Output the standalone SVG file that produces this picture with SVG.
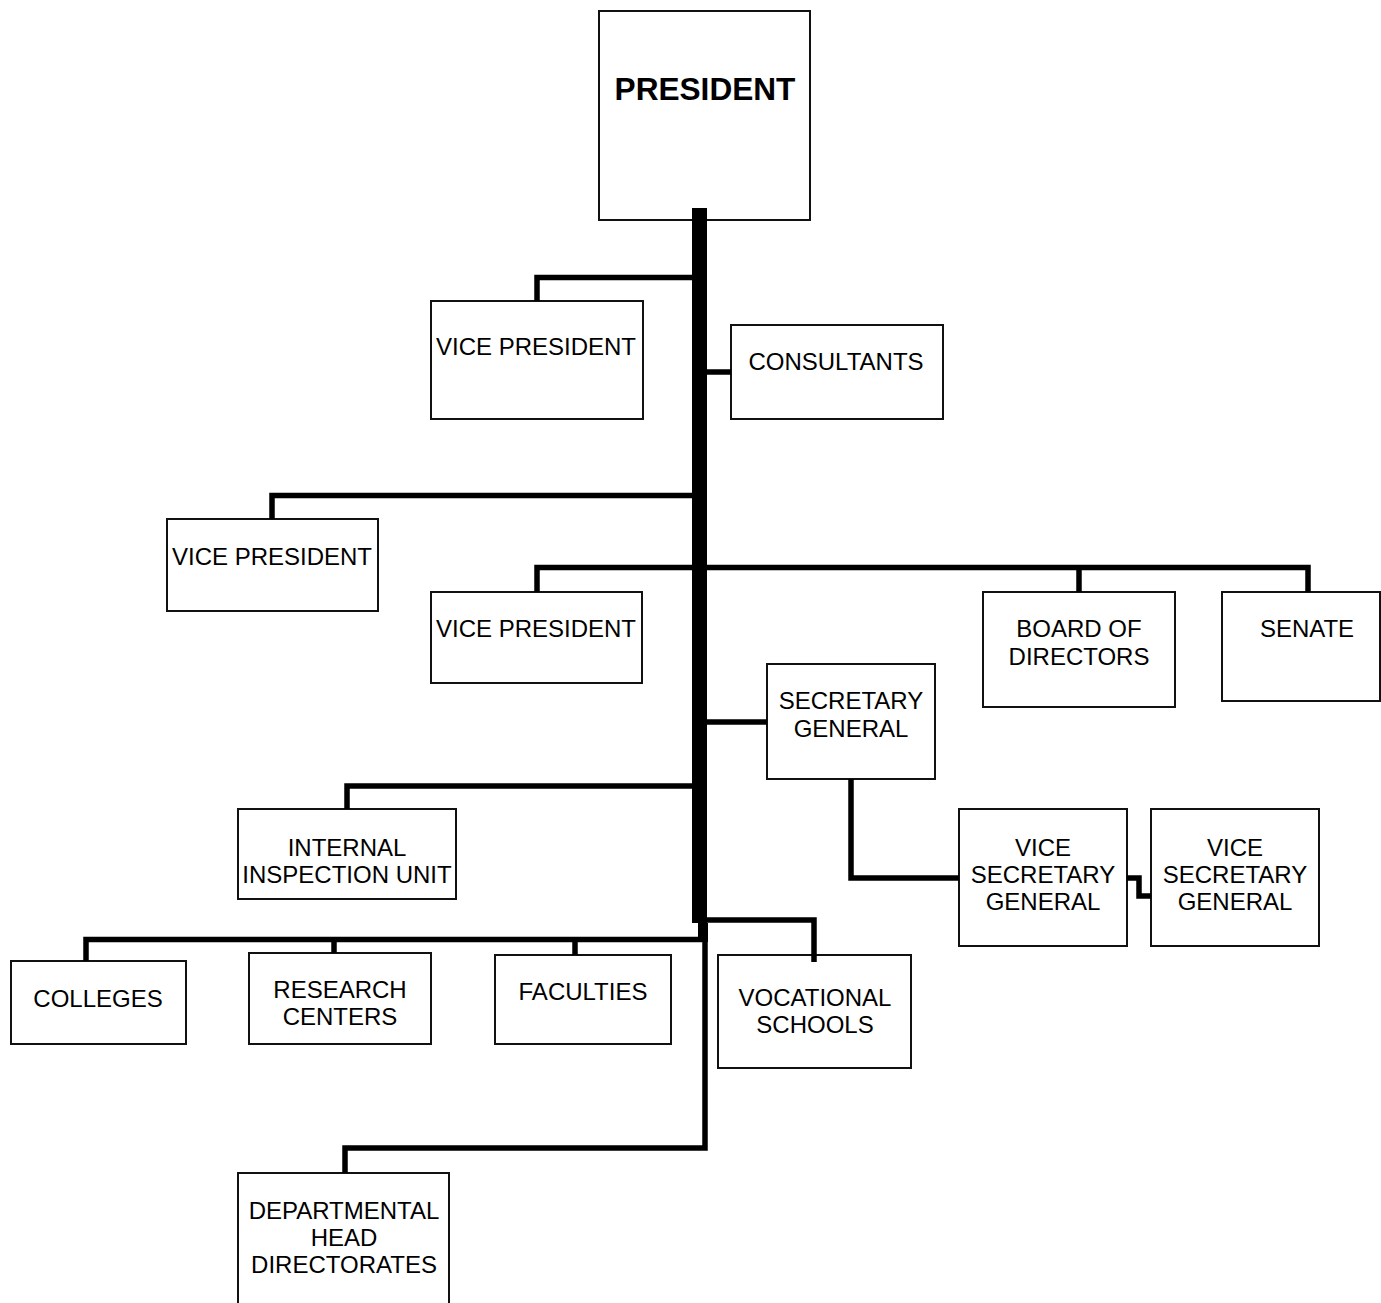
<svg xmlns="http://www.w3.org/2000/svg" width="1381" height="1303" viewBox="0 0 1381 1303">
<style>
.box{fill:#fff;stroke:#111;stroke-width:2}
.t{font-family:"Liberation Sans",Arial,sans-serif;font-size:24px;fill:#000;text-anchor:middle}
.tb{font-weight:bold;font-size:31.6px}
.c{fill:none;stroke:#000;stroke-width:5.5;stroke-linejoin:miter;stroke-linecap:butt}
.s{fill:#000;stroke:none}
</style>
<rect width="1381" height="1303" fill="#fff"/>
<g id="nodes">
<g id="president"><rect class="box" x="599" y="11" width="211" height="209"/><text class="t tb" x="705" y="100">PRESIDENT</text></g>
<g id="vp1"><rect class="box" x="431" y="301" width="212" height="118"/><text class="t" x="536" y="355">VICE PRESIDENT</text></g>
<g id="consultants"><rect class="box" x="731" y="325" width="212" height="94"/><text class="t" x="836" y="370">CONSULTANTS</text></g>
<g id="vp2"><rect class="box" x="167" y="519" width="211" height="92"/><text class="t" x="272" y="565">VICE PRESIDENT</text></g>
<g id="vp3"><rect class="box" x="431" y="592" width="211" height="91"/><text class="t" x="536" y="637">VICE PRESIDENT</text></g>
<g id="board"><rect class="box" x="983" y="592" width="192" height="115"/><text class="t" x="1079" y="637">BOARD OF</text><text class="t" x="1079" y="665">DIRECTORS</text></g>
<g id="senate"><rect class="box" x="1222" y="592" width="158" height="109"/><text class="t" x="1307" y="637">SENATE</text></g>
<g id="secgen"><rect class="box" x="767" y="664" width="168" height="115"/><text class="t" x="851" y="709">SECRETARY</text><text class="t" x="851" y="737">GENERAL</text></g>
<g id="vsg1"><rect class="box" x="959" y="809" width="168" height="137"/><text class="t" x="1043" y="856">VICE</text><text class="t" x="1043" y="883">SECRETARY</text><text class="t" x="1043" y="910">GENERAL</text></g>
<g id="vsg2"><rect class="box" x="1151" y="809" width="168" height="137"/><text class="t" x="1235" y="856">VICE</text><text class="t" x="1235" y="883">SECRETARY</text><text class="t" x="1235" y="910">GENERAL</text></g>
<g id="internal"><rect class="box" x="238" y="809" width="218" height="90"/><text class="t" x="347" y="856">INTERNAL</text><text class="t" x="347" y="883">INSPECTION UNIT</text></g>
<g id="colleges"><rect class="box" x="11" y="961" width="175" height="83"/><text class="t" x="98" y="1007">COLLEGES</text></g>
<g id="research"><rect class="box" x="249" y="953" width="182" height="91"/><text class="t" x="340" y="998">RESEARCH</text><text class="t" x="340" y="1025">CENTERS</text></g>
<g id="faculties"><rect class="box" x="495" y="955" width="176" height="89"/><text class="t" x="583" y="1000">FACULTIES</text></g>
<g id="vocational"><rect class="box" x="718" y="955" width="193" height="113"/><text class="t" x="815" y="1006">VOCATIONAL</text><text class="t" x="815" y="1033">SCHOOLS</text></g>
<g id="departmental"><rect class="box" x="238" y="1173" width="211" height="150"/><text class="t" x="344" y="1219">DEPARTMENTAL</text><text class="t" x="344" y="1246">HEAD</text><text class="t" x="344" y="1273">DIRECTORATES</text></g>
</g>
<g id="connectors">
<rect class="s" x="692" y="208" width="15" height="715"/>
<rect class="s" x="698" y="923" width="10" height="19"/>
<path class="c" d="M693 277.5 H537 V301"/>
<path class="c" d="M707 372 H731"/>
<path class="c" d="M693 495.5 H272 V519"/>
<path class="c" d="M537 592 V567.5 H1308 V592"/>
<path class="c" d="M1079 567.5 V592"/>
<path class="c" d="M707 722 H767"/>
<path class="c" d="M851 779 V878 H959"/>
<path class="c" d="M1127 878 H1139 V896 H1151"/>
<path class="c" d="M693 786 H347 V809"/>
<path class="c" d="M86 961 V939.5 H702"/>
<path class="c" d="M334 939.5 V953"/>
<path class="c" d="M575 939.5 V955"/>
<path class="c" d="M707 920 H814 V962"/>
<path class="c" d="M705 940 V1148 H345 V1173"/>
</g>
</svg>
